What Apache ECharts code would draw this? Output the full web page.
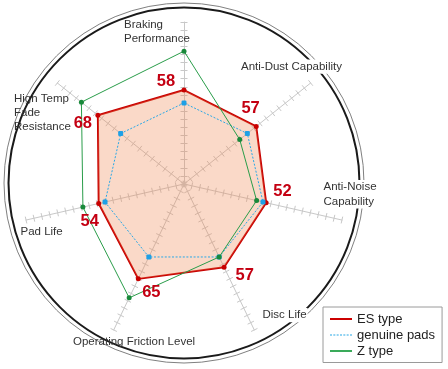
<!DOCTYPE html>
<html>
<head>
<meta charset="utf-8">
<script src="https://cdn.jsdelivr.net/npm/echarts@6/dist/echarts.min.js"></script>
<style>
html,body{margin:0;padding:0;background:#fff;}
#chart{width:448px;height:369px;}
</style>
</head>
<body>
<div id="chart"></div>
<script>
// Categories in clockwise order starting at the top
var categories = ['Braking\nPerformance', 'Anti-Dust Capability', 'Anti-Noise\nCapability', 'Disc Life', 'Operating Friction Level', 'Pad Life', 'High Temp\nFade\nResistance'];
var seriesNames = ['ES type', 'genuine pads', 'Z type'];
var esType = [58, 57, 52, 57, 65, 54, 68];
var genuinePads = [50, 50, 50, 50, 50, 50, 50];
var zType = [82, 44, 46, 50, 78, 64, 81];
var axisMax = 100;

// layout / style (not data)
var namePos = [[124, 17.5], [240, 59.5], [322.5, 180], [261.5, 308], [73, 335], [20.5, 225], [14, 91.5]];
var nameBg = [false, true, true, true, false, false, false];
var labelOffsets = [[-18, -9], [-5.6, -18.3], [16.3, -11.3], [20.7, 8.3], [13, 13.2], [-9, 18.4], [-15, 8.5]];
var CX = 184, CY = 184, R = 162;
var FONT = '"Liberation Sans", Arial, sans-serif';

// ECharts radar lays indicators counter-clockwise; reorder so the picture runs clockwise
var order = [0, 6, 5, 4, 3, 2, 1];
function reorder(arr) { return order.map(function (i) { return arr[i]; }); }

var chart = echarts.init(document.getElementById('chart'), null, {renderer: 'canvas'});

var radarBase = {
  indicator: reorder(categories).map(function (n) { return {name: n, min: 0, max: axisMax}; }),
  center: [CX, CY],
  radius: R,
  startAngle: 90,
  splitNumber: 20,
  shape: 'polygon',
  axisName: {show: false},
  splitLine: {show: false},
  splitArea: {show: false},
  axisLabel: {show: false}
};
var radar0 = Object.assign({}, radarBase, {
  axisLine: {show: true, lineStyle: {color: '#c8c8c8', width: 1}},
  axisTick: {show: true, length: 3.5, lineStyle: {color: '#c8c8c8', width: 1}}
});
var radar1 = Object.assign({}, radarBase, {
  axisLine: {show: false},
  axisTick: {show: true, length: -3.5, lineStyle: {color: '#c8c8c8', width: 1}}
});

var graphics = [
  {type: 'circle', z: 0, shape: {cx: CX, cy: 183, r: 180}, style: {fill: null, stroke: '#808080', lineWidth: 1}},
  {type: 'circle', z: 0, shape: {cx: CX, cy: 183, r: 175.5}, style: {fill: null, stroke: '#1a1a1a', lineWidth: 2}}
];
categories.forEach(function (c, i) {
  graphics.push({
    type: 'text', z: 1, x: namePos[i][0], y: namePos[i][1],
    style: {
      text: c, font: '11.5px ' + FONT, fill: '#333', lineHeight: 14.3,
      align: 'left', verticalAlign: 'top',
      backgroundColor: nameBg[i] ? '#fff' : null, padding: nameBg[i] ? [0, 1] : 0
    }
  });
});

var dashIcon = 'path://M0,0h2v1h-2z M3.33,0h2v1h-2z M6.67,0h2v1h-2z M10,0h2v1h-2z M13.33,0h2v1h-2z M16.67,0h2v1h-2z M20,0h2v1h-2z';

var option = {
  animation: false,
  backgroundColor: '#fff',
  graphic: graphics,
  radar: [radar0, radar1],
  polar: {center: [CX, CY], radius: R},
  angleAxis: {type: 'value', min: 0, max: categories.length, startAngle: 90, clockwise: true, show: false},
  radiusAxis: {type: 'value', min: 0, max: axisMax, show: false},
  legend: {
    orient: 'vertical', left: 323, top: 307,
    padding: [4, 7, 3.5, 7],
    borderColor: '#9a9a9a', borderWidth: 1,
    itemWidth: 22, itemHeight: 2, itemGap: 0,
    itemStyle: {borderWidth: 0},
    textStyle: {fontSize: 13, color: '#222', fontFamily: FONT, lineHeight: 16},
    data: [
      {name: seriesNames[0], icon: 'rect', itemStyle: {color: '#cc0000'}},
      {name: seriesNames[1], icon: dashIcon, itemStyle: {color: '#29a8e6'}},
      {name: seriesNames[2], icon: 'rect', itemStyle: {color: '#3aaa5a'}}
    ]
  },
  series: [
    {
      type: 'radar', radarIndex: 0, name: seriesNames[0], z: 2,
      symbol: 'circle', symbolSize: 5,
      lineStyle: {color: '#c80000', width: 2},
      itemStyle: {color: '#c80000'},
      areaStyle: {color: '#ef8a55', opacity: 0.32},
      data: [{name: seriesNames[0], value: reorder(esType)}]
    },
    {
      type: 'radar', radarIndex: 0, name: seriesNames[1], z: 3,
      symbol: 'roundRect', symbolSize: 5,
      lineStyle: {color: '#29a8e6', width: 1, type: [2, 1.6]},
      itemStyle: {color: '#1ea0e6'},
      data: [{name: seriesNames[1], value: reorder(genuinePads)}]
    },
    {
      type: 'radar', radarIndex: 0, name: seriesNames[2], z: 4,
      symbol: 'circle', symbolSize: 5,
      lineStyle: {color: '#2a9d4a', width: 1},
      itemStyle: {color: '#18893a'},
      data: [{name: seriesNames[2], value: reorder(zType)}]
    },
    {
      type: 'scatter', coordinateSystem: 'polar', z: 5, silent: true,
      symbolSize: 1, itemStyle: {color: 'rgba(0,0,0,0)', opacity: 1},
      label: {
        show: true, position: 'inside', opacity: 1,
        formatter: function (p) { return String(p.value[0]); },
        fontSize: 16.5, fontWeight: 'bold', color: '#c40012', fontFamily: FONT,
        textBorderWidth: 0
      },
      data: esType.map(function (v, i) { return {value: [v, i], label: {offset: labelOffsets[i]}}; })
    }
  ]
};
chart.setOption(option);
</script>
</body>
</html>
